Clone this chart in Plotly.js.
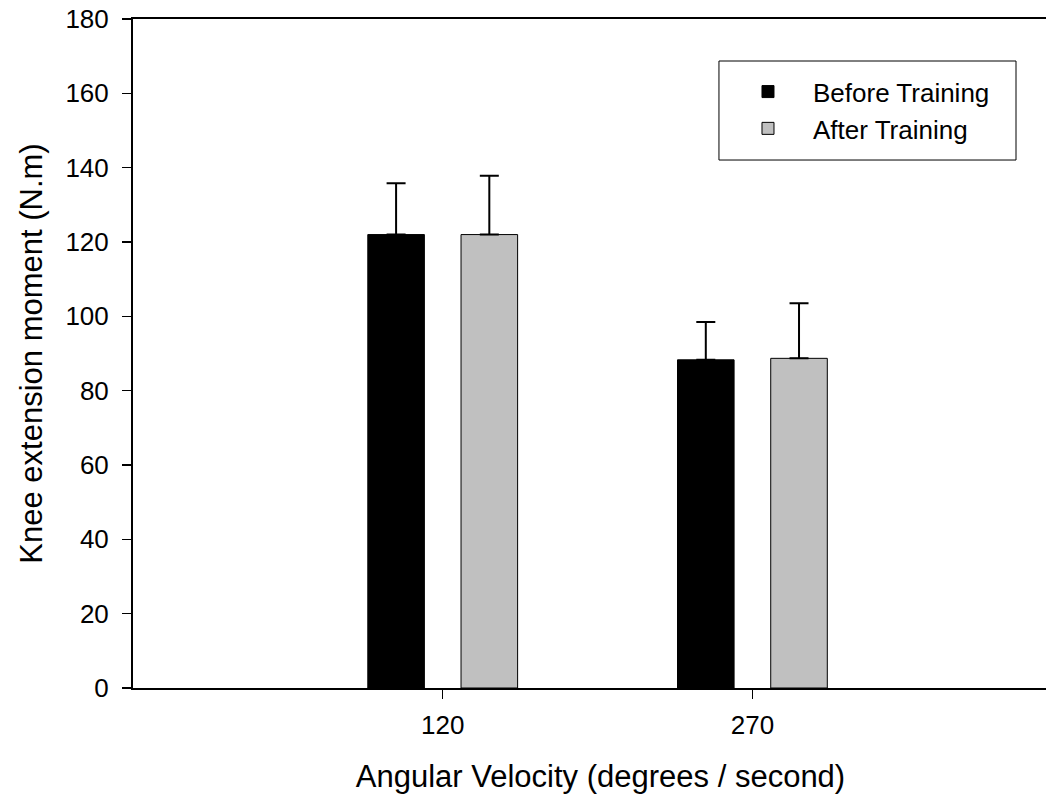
<!DOCTYPE html>
<html>
<head>
<meta charset="utf-8">
<script src="https://cdn.plot.ly/plotly-3.0.1.min.js"></script>
<style>html,body{margin:0;padding:0;background:#fff;overflow:hidden;}#chart{width:1068px;height:799px;}</style>
</head>
<body>
<div id="chart"></div>
<script>
var categories = ["120", "270"];
var beforeValues = [122.0, 88.3];
var beforeErrors = [13.8, 10.2];
var afterValues = [122.0, 88.7];
var afterErrors = [15.8, 14.8];
var yTickValues = [0, 20, 40, 60, 80, 100, 120, 140, 160, 180];
var seriesNames = ["Before Training", "After Training"];

var font = "Arial, 'Liberation Sans', sans-serif";

var traces = [
  {
    type: "bar", name: seriesNames[0], x: categories, y: beforeValues,
    marker: {color: "#000000", line: {color: "#000000", width: 1}},
    error_y: {type: "data", symmetric: false, array: beforeErrors, arrayminus: [0, 0],
              color: "#000000", thickness: 2, width: 9.5}
  },
  {
    type: "bar", name: seriesNames[1], x: categories, y: afterValues,
    marker: {color: "#c0c0c0", line: {color: "#000000", width: 1}},
    error_y: {type: "data", symmetric: false, array: afterErrors, arrayminus: [0, 0],
              color: "#000000", thickness: 2, width: 9.5}
  }
];

var layout = {
  width: 1068, height: 799,
  margin: {l: 133, r: 0, t: 19, b: 111},
  paper_bgcolor: "#ffffff", plot_bgcolor: "#ffffff",
  font: {family: font, color: "#000000", size: 26},
  barmode: "group", bargap: 0.398, bargroupgap: 0.393,
  showlegend: true,
  legend: {
    x: 0.631, y: 0.9265, xanchor: "left", yanchor: "top",
    borderwidth: 0, bgcolor: "rgba(0,0,0,0)",
    itemwidth: 80,
    font: {family: font, size: 26, color: "#000000"},
    traceorder: "normal"
  },
  shapes: [
    {type: "rect", xref: "paper", yref: "paper", x0: 0.6267, x1: 0.9444, y0: 0.7892, y1: 0.9372,
     line: {color: "#000000", width: 1}, fillcolor: "rgba(0,0,0,0)", layer: "below"}
  ],
  xaxis: {
    type: "category", range: [-1, 2.019],
    showline: true, linecolor: "#000000", linewidth: 2, mirror: true,
    ticks: "outside", ticklen: 9, tickwidth: 1.5, tickcolor: "#000000",
    ticklabelstandoff: 4,
    showgrid: false, zeroline: false,
    tickfont: {family: font, size: 26, color: "#000000"},
    title: {text: "Angular Velocity (degrees / second)", font: {family: font, size: 31, color: "#000000"}, standoff: 26}
  },
  yaxis: {
    range: [0, 180], tickvals: yTickValues,
    showline: true, linecolor: "#000000", linewidth: 2, mirror: false,
    ticks: "outside", ticklen: 9, tickwidth: 1.5, tickcolor: "#000000",
    ticklabelstandoff: 8,
    showgrid: false, zeroline: false,
    tickfont: {family: font, size: 26, color: "#000000"},
    title: {text: "Knee extension moment (N.m)", font: {family: font, size: 31, color: "#000000"}, standoff: 14}
  }
};

Plotly.newPlot("chart", traces, layout, {displayModeBar: false, staticPlot: true});
</script>
</body>
</html>
